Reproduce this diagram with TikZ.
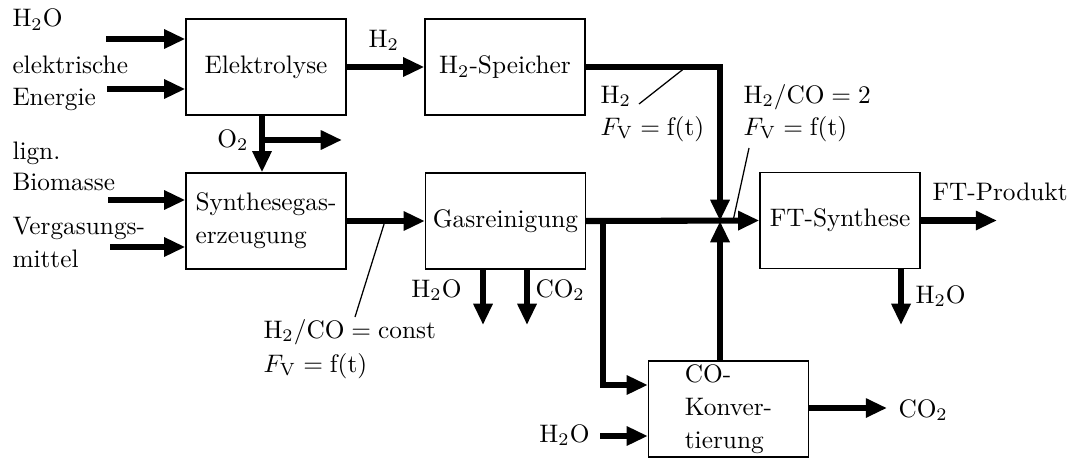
\documentclass[tikz,border=0pt]{standalone}
\usetikzlibrary{arrows.meta}
\begin{document}
\begin{tikzpicture}[x=0.395pt,y=-0.395pt,
  box/.style={draw,line width=0.5pt,minimum width=63.2pt,minimum height=37.9pt,inner sep=0pt,align=left,font={\fontsize{10}{13}\selectfont}},
  flow/.style={line width=2.4pt,-{Triangle[length=8.4pt,width=7.2pt]}},
  note/.style={line width=0.5pt},
  lbl/.style={inner sep=0pt,anchor=base west}]
\useasboundingbox (0,0) rectangle (1072,459);

% boxes
\node[box] (elek) at (266,67) {Elektrolyse};
\node[box] (spe) at (505,67) {H$_2$-Speicher};
\node[box] (syn) at (266,221) {Synthesegas-\\erzeugung};
\node[box] (gas) at (505.5,221) {Gasreinigung};
\node[box] (ft) at (840,220.5) {FT-Synthese};
\node[box] (co) at (728.5,409) {CO-\\Konver-\\tierung};

% inlets
\coordinate (inA) at (106,39);
\coordinate (inB) at (107,89);
\coordinate (inC) at (108,200);
\coordinate (inD) at (110,247);
\draw[flow] (inA) -- (inA -| elek.west);
\draw[flow] (inB) -- (inB -| elek.west);
\draw[flow] (inC) -- (inC -| syn.west);
\draw[flow] (inD) -- (inD -| syn.west);

% inlet labels
\node[lbl] (tA) at (12,27) {H$_2$O};
\node[lbl] (tB1) at (12,73) {elektrische};
\node[lbl] (tB2) at (12,105) {Energie};
\node[lbl] (tC1) at (12,159) {lign.};
\node[lbl] (tC2) at (12,190) {Biomasse};
\node[lbl] (tD1) at (12,234) {Vergasungs-};
\node[lbl] (tD2) at (12,267) {mittel};

% electrolysis
\draw[flow] (elek.east) -- (spe.west);
\node[lbl] (tH2a) at (368,47) {H$_2$};
\coordinate (o2b) at (262,140);
\coordinate (o2out) at (342,140);
\draw[flow] (elek.south -| o2b) -- (syn.north -| o2b);
\draw[flow] (o2b) -- (o2out);
\node[inner sep=0pt,anchor=base east] (tO2) at (249,147) {O$_2$};

% gasifier to cleaning
\draw[flow] (syn.east) -- (gas.west);
\coordinate (n1a) at (385,221);
\coordinate (n1b) at (355,317);
\draw[note] (n1a) -- (n1b);
\node[lbl] (tn1a) at (263,338) {$\mathrm{H_2/CO} = \mathrm{const}$};
\node[lbl] (tn1b) at (263,372) {$F_\mathrm{V} = \mathrm{f(t)}$};

% cleaning outputs
\coordinate (gH2O) at (483,325);
\coordinate (gCO2) at (527,325);
\draw[flow] (gas.south -| gH2O) -- (gH2O);
\draw[flow] (gas.south -| gCO2) -- (gCO2);
\node[inner sep=0pt,anchor=base east] (tgH2O) at (462,297) {H$_2$O};
\node[lbl] (tgCO2) at (535,297) {CO$_2$};

% main line and junction
\coordinate (j) at (720,221);
\coordinate (br) at (603,221);
\draw[flow] (gas.east) -- (ft.west);
\draw[flow] (spe.east) -| (j);
\draw[flow] (co.north -| j) -- (j);
\draw[flow] (br) |- ([yshift=9.48pt]co.west);

% H2 note
\coordinate (n2a) at (686,67);
\coordinate (n2b) at (639,104);
\draw[note] (n2a) -- (n2b);
\node[lbl] (tn2a) at (600,103) {H$_2$};
\node[lbl] (tn2b) at (600,135) {$F_\mathrm{V} = \mathrm{f(t)}$};

% H2/CO = 2 note
\coordinate (n3a) at (749,148);
\coordinate (n3b) at (733,221);
\draw[note] (n3a) -- (n3b);
\node[lbl] (tn3a) at (743,103) {$\mathrm{H_2/CO} = 2$};
\node[lbl] (tn3b) at (743,135) {$F_\mathrm{V} = \mathrm{f(t)}$};

% FT outputs
\coordinate (ftout) at (997,220.5);
\draw[flow] (ft.east) -- (ftout);
\node[lbl] (tft) at (932,200) {FT-Produkt};
\coordinate (ftH2O) at (901,325);
\draw[flow] (ft.south -| ftH2O) -- (ftH2O);
\node[lbl] (tftH2O) at (915,303) {H$_2$O};

% CO conversion
\coordinate (coH2O) at (600,436);
\draw[flow] (coH2O) -- (coH2O -| co.west);
\node[inner sep=0pt,anchor=base east] (tcoH2O) at (590,442) {H$_2$O};
\coordinate (coCO2) at (887,408);
\draw[flow] (co.east |- coCO2) -- (coCO2);
\node[lbl] (tcoCO2) at (898,417) {CO$_2$};
\end{tikzpicture}
\end{document}
